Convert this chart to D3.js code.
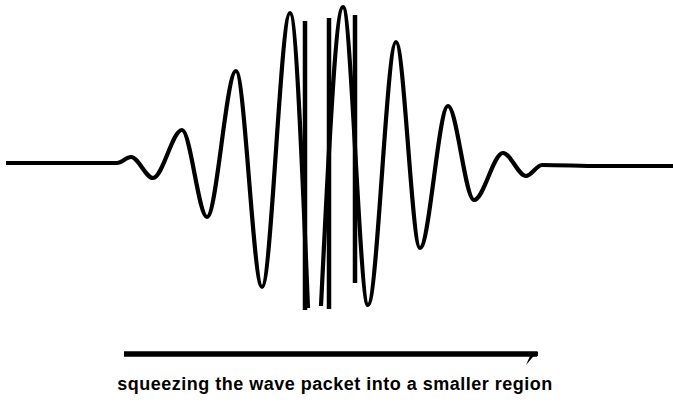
<!DOCTYPE html>
<html>
<head>
<meta charset="utf-8">
<script src="https://cdn.jsdelivr.net/npm/d3@7"></script>
<style>
  html, body { margin: 0; padding: 0; background: #ffffff; }
  svg { display: block; }
</style>
</head>
<body>
<svg id="chart" width="673" height="412"></svg>
<script>
// Wave packet trace: horizontal position and displacement (null = gap in trace)
const waveX = [6, 60, 117, 131, 153, 182, 207, 236, 262, 290, 308, null, 321, 343, 368, 396, 420, 448, 474, 503, 526, 542, 600, 673];
const waveY = [1, 1, 1, 7, -14, 34, -53, 93, -123, 151, -144, null, -142, 157, -141, 122, -84, 58, -36, 11, -12, -1, -2, -2];

// Straight vertical strokes in the centre of the packet
const barX      = [305, 329, 355];
const barTop    = [143, 146, 149];
const barBottom = [-146, -145, -119];

const caption = "squeezing the wave packet into a smaller region";

const svg = d3.select("#chart");

const x = d3.scaleLinear().domain([0, 673]).range([0, 673]);
const y = d3.scaleLinear().domain([-150, 160]).range([314, 4]);

const pts = waveX.map((d, i) => ({x: d, y: waveY[i]}));

const line = d3.line()
  .defined(d => d.x !== null && d.y !== null)
  .x(d => x(d.x))
  .y(d => y(d.y))
  .curve(d3.curveMonotoneX);

svg.append("path")
  .datum(pts)
  .attr("d", line)
  .attr("fill", "none")
  .attr("stroke", "#000")
  .attr("stroke-width", 4.2)
  .attr("stroke-linejoin", "round")
  .attr("stroke-linecap", "butt");

svg.selectAll("line.bar")
  .data(barX.map((d, i) => ({x: d, t: barTop[i], b: barBottom[i]})))
  .join("line")
  .attr("class", "bar")
  .attr("x1", d => x(d.x)).attr("x2", d => x(d.x))
  .attr("y1", d => y(d.t)).attr("y2", d => y(d.b))
  .attr("stroke", "#000")
  .attr("stroke-width", 4.5);

// Arrow
svg.append("line")
  .attr("x1", 124).attr("x2", 537)
  .attr("y1", 354).attr("y2", 354)
  .attr("stroke", "#000")
  .attr("stroke-width", 5.5);
svg.append("path")
  .attr("d", "M526,365 L530,356 L538,356 L538,351 Z")
  .attr("fill", "#000");

svg.append("text")
  .attr("x", 335)
  .attr("y", 390)
  .attr("text-anchor", "middle")
  .attr("font-family", "'Liberation Sans', Arial, sans-serif")
  .attr("font-weight", "bold")
  .attr("font-size", 18)
  .attr("letter-spacing", 0.5)
  .attr("fill", "#000")
  .text(caption);
</script>
</body>
</html>
